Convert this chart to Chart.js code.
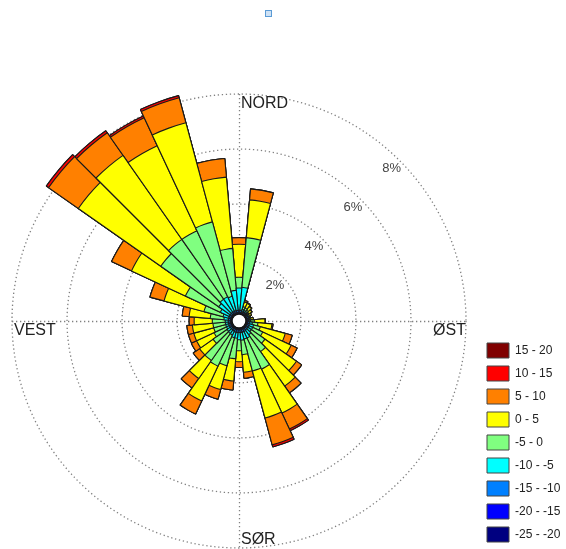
<!DOCTYPE html>
<html>
<head>
<meta charset="utf-8">
<title>Vindrose</title>
<script src="https://cdn.jsdelivr.net/npm/chart.js@4/dist/chart.umd.min.js"></script>
<style>
  html, body { margin: 0; padding: 0; background: #fff; }
  canvas { display: block; }
</style>
</head>
<body>
<canvas id="rose" width="566" height="549"></canvas>
<script>
// Direction bins, 10 degrees each, clockwise from north
const bearings = [0, 10, 20, 30, 40, 50, 60, 70, 80, 90, 100, 110, 120, 130, 140, 150, 160, 170,
  180, 190, 200, 210, 220, 230, 240, 250, 260, 270, 280, 290, 300, 310, 320, 330, 340, 350];

// Temperature classes, coldest first (stacked from the centre outwards)
const classLabels = ["-25 - -20", "-20 - -15", "-15 - -10", "-10 - -5", "-5 - 0", "0 - 5", "5 - 10", "10 - 15", "15 - 20"];
const classColors = ["#000080", "#0000ff", "#0080ff", "#00ffff", "#80ff80", "#ffff00", "#ff8000", "#ff0000", "#800000"];

// Share of observations (%) per direction for each class
const cls25to20 = [0.02, 0.02, 0.02, 0.02, 0.02, 0.02, 0.02, 0.02, 0.02, 0.02, 0.02, 0.02, 0.02, 0.02, 0.02, 0.02, 0.02, 0.02,
  0.02, 0.02, 0.02, 0.02, 0.02, 0.02, 0.02, 0.02, 0.02, 0.02, 0.02, 0.02, 0.02, 0.02, 0.02, 0.02, 0.02, 0.02];
const cls20to15 = [0.04, 0.04, 0.03, 0.03, 0.03, 0.03, 0.03, 0.03, 0.03, 0.03, 0.04, 0.04, 0.04, 0.04, 0.04, 0.05, 0.05, 0.05,
  0.05, 0.05, 0.05, 0.04, 0.04, 0.04, 0.04, 0.04, 0.04, 0.04, 0.04, 0.04, 0.04, 0.04, 0.04, 0.04, 0.04, 0.04];
const cls15to10 = [0.08, 0.08, 0.06, 0.06, 0.06, 0.06, 0.06, 0.06, 0.06, 0.06, 0.07, 0.08, 0.08, 0.08, 0.09, 0.10, 0.10, 0.10,
  0.10, 0.10, 0.10, 0.09, 0.08, 0.08, 0.08, 0.08, 0.08, 0.08, 0.08, 0.08, 0.08, 0.08, 0.08, 0.08, 0.08, 0.08];
const cls10to5 = [0.81, 0.84, 0.08, 0.06, 0.06, 0.04, 0.02, 0.01, 0.02, 0.06, 0.11, 0.16, 0.16, 0.16, 0.21, 0.26, 0.26, 0.28,
  0.26, 0.21, 0.21, 0.16, 0.16, 0.14, 0.11, 0.11, 0.11, 0.11, 0.16, 0.21, 0.36, 0.51, 0.58, 0.58, 0.54, 0.73];
const cls5to0 = [0.39, 1.81, 0.10, 0.10, 0.06, 0.04, 0.04, 0.03, 0.06, 0.14, 0.20, 0.25, 0.40, 0.60, 0.75, 1.25, 1.20, 0.53,
  0.40, 0.75, 1.05, 1.25, 1.20, 0.62, 0.50, 0.45, 0.45, 0.47, 0.50, 0.72, 1.40, 2.57, 2.65, 2.65, 2.80, 1.53];
const cls0to5 = [1.20, 1.38, 0.18, 0.18, 0.16, 0.13, 0.08, 0.04, 0.08, 0.38, 0.51, 0.94, 1.14, 1.40, 1.53, 1.76, 1.77, 0.64,
  0.40, 0.81, 0.90, 1.40, 0.80, 0.60, 0.70, 0.75, 0.75, 0.66, 0.77, 1.50, 2.16, 3.66, 3.73, 3.41, 3.73, 2.60];
const cls5to10 = [0.24, 0.40, 0.05, 0.02, 0.02, 0.01, 0.00, 0.00, 0.00, 0.02, 0.04, 0.26, 0.24, 0.23, 0.30, 0.64, 1.01, 0.22,
  0.21, 0.33, 0.36, 0.52, 0.42, 0.28, 0.21, 0.20, 0.20, 0.18, 0.25, 0.53, 0.80, 1.32, 1.00, 1.12, 0.94, 0.68];
const cls10to15 = [0, 0, 0, 0, 0, 0, 0, 0, 0, 0, 0, 0, 0, 0, 0, 0.07, 0.08, 0,
  0, 0, 0, 0, 0, 0, 0, 0, 0, 0, 0, 0, 0, 0.10, 0.09, 0.07, 0.08, 0];
const cls15to20 = [0, 0, 0, 0, 0, 0, 0, 0, 0, 0, 0, 0, 0, 0, 0, 0, 0, 0,
  0, 0, 0, 0, 0, 0, 0, 0, 0, 0, 0, 0, 0, 0, 0, 0, 0, 0];

// Rings and compass words
const ringValues = [2, 4, 6, 8];
const compassWords = ["NORD", "ØST", "SØR", "VEST"];

const gridColor = "#808080";
const gridDash = [1.3, 2.7];
const fontFamily = "'Liberation Sans', Arial, sans-serif";
Chart.defaults.font.family = fontFamily;

// Polar area arcs start at the centre, so each dataset carries the running
// total; the inner (colder) totals are drawn on top of the outer ones.
const classSeries = [cls25to20, cls20to15, cls15to10, cls10to5, cls5to0, cls0to5, cls5to10, cls10to15, cls15to20];
let running = bearings.map(() => 0);
const datasets = classSeries.map((values, k) => {
  running = running.map((sum, i) => sum + values[i]);
  return {
    label: classLabels[k],
    data: running.slice(),
    backgroundColor: classColors[k],
    borderColor: "#1a1a1a",
    borderWidth: 1.1
  };
});

const compassPlugin = {
  id: "compass",
  beforeDatasetsDraw(chart) {
    const scale = chart.scales.r;
    const ctx = chart.ctx;
    const cx = scale.xCenter;
    const cy = scale.yCenter;
    const R = scale.getDistanceFromCenterForValue(scale.max);

    ctx.save();
    ctx.strokeStyle = gridColor;
    ctx.lineWidth = 1.3;
    ctx.setLineDash(gridDash);
    ctx.beginPath();
    ctx.moveTo(cx - R, cy + 0.5);
    ctx.lineTo(cx + R, cy + 0.5);
    ctx.moveTo(cx + 0.5, cy - R);
    ctx.lineTo(cx + 0.5, cy + R);
    ctx.stroke();
    ctx.setLineDash([]);

    // ring labels sit just inside each ring on the north-east diagonal
    ctx.fillStyle = "#444";
    ctx.font = "13px " + fontFamily;
    ctx.textAlign = "center";
    ctx.textBaseline = "middle";
    ringValues.forEach((v) => {
      const d = scale.getDistanceFromCenterForValue(v) - 11;
      ctx.fillText(v + "%", cx + d * Math.SQRT1_2, cy - d * Math.SQRT1_2);
    });

    ctx.fillStyle = "#222";
    ctx.font = "16px " + fontFamily;
    ctx.textBaseline = "alphabetic";
    ctx.textAlign = "left";
    ctx.fillText(compassWords[0], cx + 2, cy - R + 14);
    ctx.textAlign = "right";
    ctx.fillText(compassWords[1], cx + R, cy + 14);
    ctx.textAlign = "left";
    ctx.fillText(compassWords[2], cx + 2, cy + R - 4);
    ctx.fillText(compassWords[3], cx - R + 2, cy + 14);
    ctx.restore();
  },
  afterDatasetsDraw(chart) {
    const scale = chart.scales.r;
    const ctx = chart.ctx;
    const hole = scale.getDistanceFromCenterForValue(0);
    ctx.save();
    ctx.beginPath();
    ctx.arc(scale.xCenter, scale.yCenter, hole, 0, Math.PI * 2);
    ctx.fillStyle = "#fff";
    ctx.fill();
    ctx.strokeStyle = "#111";
    ctx.lineWidth = 1.2;
    ctx.stroke();
    ctx.restore();
  },
  afterDraw(chart) {
    // small marker above the rose
    const ctx = chart.ctx;
    ctx.save();
    ctx.fillStyle = "#cfe2f5";
    ctx.strokeStyle = "#5b9bd5";
    ctx.lineWidth = 1;
    ctx.fillRect(265.5, 10.5, 6, 6);
    ctx.strokeRect(265.5, 10.5, 6, 6);
    ctx.restore();
  }
};

new Chart(document.getElementById("rose"), {
  type: "polarArea",
  data: {
    labels: bearings.map((b) => b + "°"),
    datasets
  },
  options: {
    responsive: false,
    animation: false,
    layout: { padding: { top: 94, bottom: -1, left: -4, right: 0 } },
    scales: {
      r: {
        min: -0.25,
        max: 8,
        startAngle: -5,
        afterBuildTicks: (scale) => {
          scale.ticks = ringValues.map((v) => ({ value: v }));
        },
        ticks: { display: false },
        grid: { circular: true, color: gridColor, lineWidth: 1.3 },
        border: { dash: gridDash },
        angleLines: { display: false },
        pointLabels: { display: false }
      }
    },
    plugins: {
      tooltip: { enabled: false },
      legend: {
        position: "right",
        align: "end",
        maxWidth: 87,
        labels: {
          boxWidth: 22,
          boxHeight: 15,
          padding: 8,
          color: "#222",
          font: { size: 12, family: fontFamily },
          generateLabels: (chart) => chart.data.datasets.map((ds, i) => ({
            text: ds.label,
            fillStyle: ds.backgroundColor,
            strokeStyle: "#444",
            lineWidth: 1,
            hidden: false,
            datasetIndex: i,
            fontColor: "#222"
          })).reverse()
        }
      }
    }
  },
  plugins: [compassPlugin]
});
</script>
</body>
</html>
